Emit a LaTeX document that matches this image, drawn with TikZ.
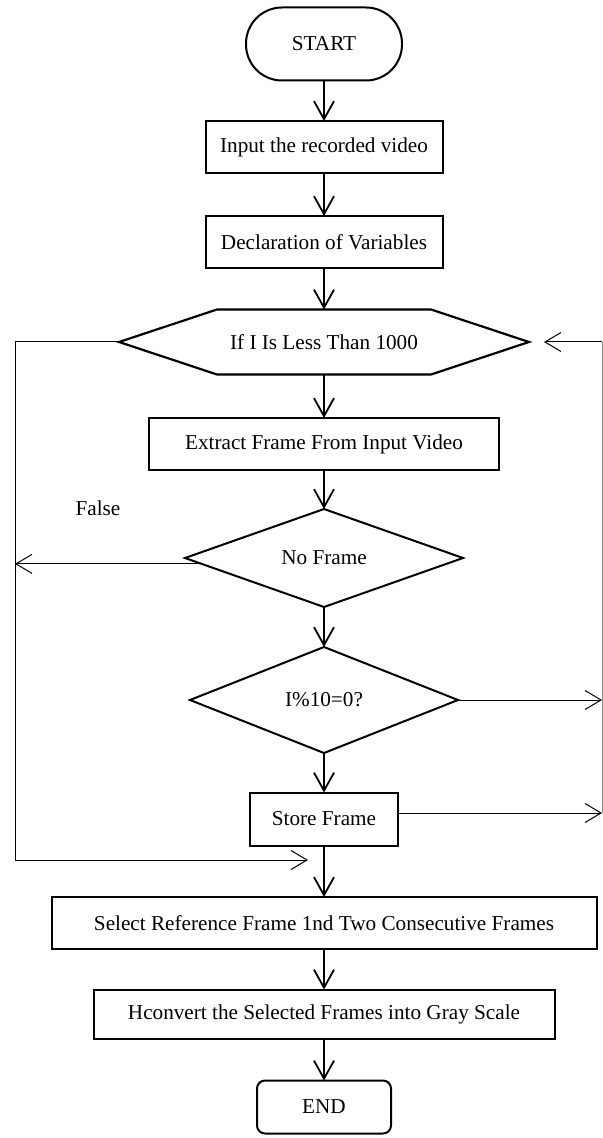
\documentclass[tikz,border=0pt]{standalone}
\usepackage{fontspec}
\setmainfont{Liberation Serif}
\usetikzlibrary{shapes.geometric,arrows.meta,calc}

\begin{document}
\begin{tikzpicture}[x=0.5pt,y=-0.5pt,
    font=\fontsize{10.6}{12.7}\selectfont,
    box/.style={draw,line width=1pt,inner sep=0pt,outer sep=0pt},
    terminal/.style={box,minimum width=#1,minimum height=26.5pt,rounded corners=4pt},
    process/.style={box,minimum width=#1,minimum height=26pt},
    decision/.style={box,diamond,aspect=3,minimum width=#1},
    flow/.style={line width=0.9pt,-{Straight Barb[length=9pt,width=10pt,line width=0.9pt]}},
    side/.style={line width=0.5pt},
    sidearrow/.style={side,-{Straight Barb[length=8pt,width=9.5pt,line width=0.5pt]}}]
  \useasboundingbox (0,0) rectangle (603,1138);
  \pgfmathsetmacro{\xc}{324}

  % main column
  \node[box,minimum width=78pt,minimum height=36.5pt,rounded corners=18pt] (start) at (\xc,44) {START};
  \node[process=118.5pt] (input) at (\xc,147) {Input the recorded video};
  \node[process=118.5pt] (decl) at (\xc,242) {Declaration of Variables};
  \node[inner sep=0pt,outer sep=0pt,minimum width=205pt,minimum height=32.5pt] (loop) at (\xc,342) {If I Is Less Than 1000};
  \draw[line width=1.1pt] (loop.west) -- ($(loop.north west)+(98,0)$) -- ($(loop.north east)+(-98,0)$)
    -- (loop.east) -- ($(loop.south east)+(-98,0)$) -- ($(loop.south west)+(98,0)$) -- cycle;
  \node[process=175pt] (extract) at (\xc,444) {Extract Frame From Input Video};
  \node[decision=139pt,minimum height=49pt] (nof) at (\xc,558) {No Frame};
  \node[decision=134pt,minimum height=53pt] (mod) at (\xc,700) {I\%10=0?};
  \node[process=74pt,minimum height=26.5pt] (store) at (\xc,819) {Store Frame};
  \node[process=272.5pt] (select) at (\xc,923) {Select Reference Frame 1nd Two Consecutive Frames};
  \node[process=230.5pt,minimum height=24.5pt] (gray) at (\xc,1014) {Hconvert the Selected Frames into Gray Scale};
  \node[terminal=67pt] (fin) at (\xc,1107) {END};

  \node (false) at (98,508) {False};

  \draw[flow] (start) -- (input);
  \draw[flow] (input) -- (decl);
  \draw[flow] (decl) -- (loop.north);
  \draw[flow] (loop.south) -- (extract);
  \draw[flow] (extract) -- (nof.north);
  \draw[flow] (nof.south) -- (mod.north);
  \draw[flow] (mod.south) -- (store);
  \draw[flow] (store) -- (select);
  \draw[flow] (select) -- (gray);
  \draw[flow] (gray) -- (fin);

  % loop back lines
  \coordinate (lt) at (15,342);
  \coordinate (lb) at (15,860);
  \coordinate (lj) at (308,860);
  \coordinate (rt) at (602,342);
  \coordinate (rb) at (602,813);
  \draw[side] (loop.west) -- (lt) -- (lb);
  \draw[sidearrow] (lb) -- (lj);
  \draw[sidearrow] ($(nof.west)!0.12!(nof.south)$) coordinate (nf) -- (nf -| lt);
  \draw[black!45,line width=0.4pt] (rt) -- (rb);
  \draw[sidearrow] (rt) -- ([xshift=7.5pt]loop.east);
  \draw[sidearrow] (mod.east) -- (mod.east -| rt);
  \draw[sidearrow] ([yshift=3pt]store.east) coordinate (sf) -- (sf -| rt);
\end{tikzpicture}
\end{document}
